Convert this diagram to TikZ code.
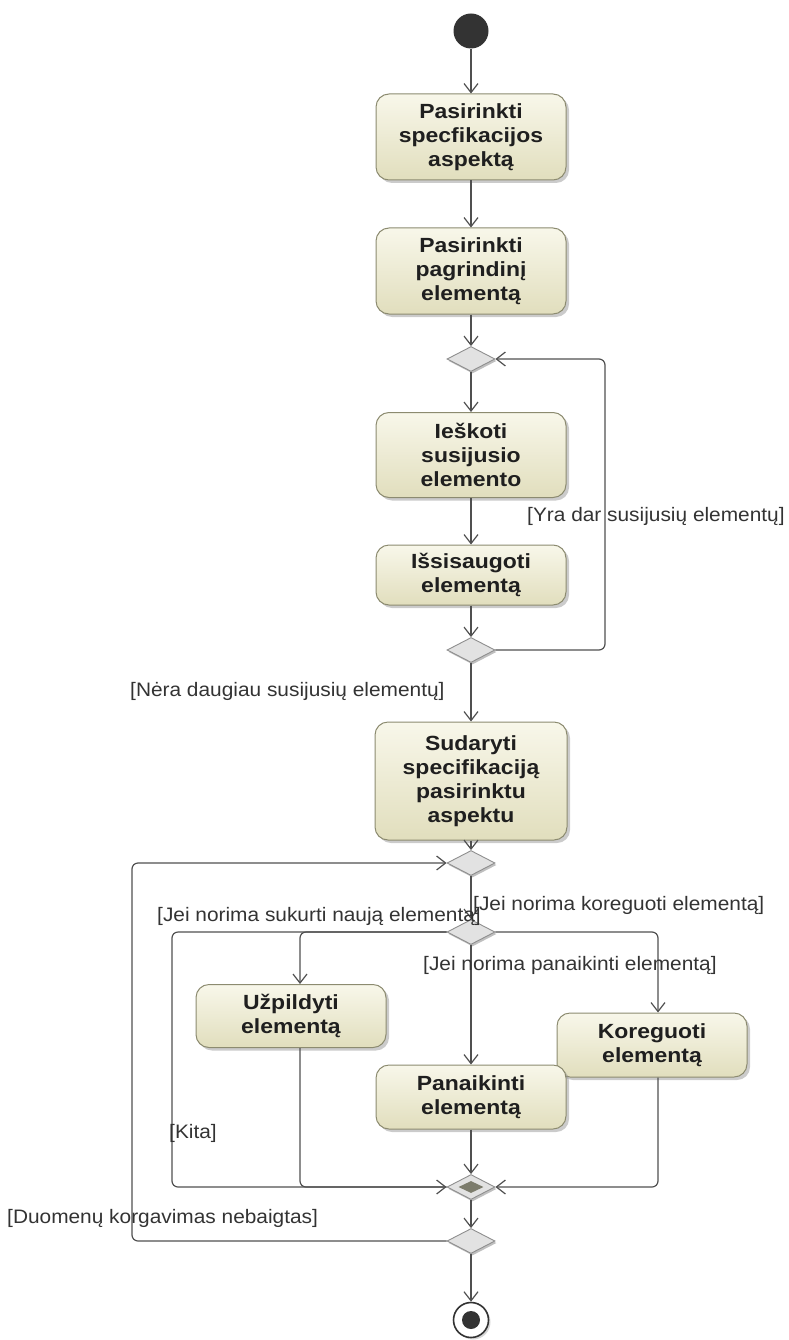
\documentclass[tikz,border=0pt]{standalone}
\usepackage{fontspec}
\setmainfont{Liberation Sans}
\newfontfamily\boxfont[FakeStretch=1.12]{Liberation Sans}
\newfontfamily\guardfont[FakeStretch=1.07]{Liberation Sans}
\usetikzlibrary{arrows.meta,shapes.geometric,shadows}

\definecolor{boxline}{HTML}{8C8B70}
\definecolor{boxtop}{HTML}{F8F7EA}
\definecolor{boxbot}{HTML}{E1DEBD}
\definecolor{decline}{HTML}{8E8E8E}
\definecolor{decfill}{HTML}{E2E2E2}
\definecolor{flowcol}{HTML}{505050}
\definecolor{dotcol}{HTML}{333333}
\definecolor{joincol}{HTML}{7C7C6C}

\begin{document}
\begin{tikzpicture}[x=1pt,y=-1pt,
  action/.style={rectangle, rounded corners=13pt, draw=boxline, line width=1pt,
    top color=boxtop, bottom color=boxbot, minimum width=190pt, align=center,
    inner sep=2pt, text=black!88,
    font=\boxfont\fontsize{20.5}{24}\selectfont\bfseries,
    drop shadow={shadow xshift=3pt, shadow yshift=-3pt, fill=black!45, opacity=0.45}},
  decision/.style={diamond, draw=decline, fill=decfill, line width=0.9pt,
    minimum width=48pt, minimum height=25pt, inner sep=0pt,
    drop shadow={shadow xshift=1.5pt, shadow yshift=-2pt, fill=black!50, opacity=0.5}},
  guard/.style={anchor=west, inner sep=0pt, text=black!80,
    font=\guardfont\fontsize{19.5}{22}\selectfont},
  flow/.style={draw=flowcol, line width=1.2pt, -{Straight Barb[length=9pt,width=14pt]}},
  plain/.style={draw=flowcol, line width=1.2pt}
]
\useasboundingbox (0,0) rectangle (788,1340);

% main column at x = 471
% start and end
\node[circle, fill=dotcol, minimum size=35pt, inner sep=0pt] (start) at (471,31) {};
\node[circle, draw=dotcol, fill=white, line width=1.6pt, minimum size=35pt, inner sep=0pt,
  drop shadow={shadow xshift=2pt, shadow yshift=-2pt, fill=black!40, opacity=0.4}] (stop) at (471,1320) {};
\node[circle, fill=dotcol, minimum size=18pt, inner sep=0pt] (stopdot) at (stop.center) {};

% actions
\node[action, minimum height=86pt] (b1) at (471,137) {Pasirinkti\\specfikacijos\\aspektą};
\node[action, minimum height=86pt] (b2) at (471,271) {Pasirinkti\\pagrindinį\\elementą};
\node[decision] (d1) at (471,359) {};
\node[action, minimum height=85pt] (b3) at (471,455) {Ieškoti\\susijusio\\elemento};
\node[action, minimum height=60pt] (b4) at (471,575) {Išsisaugoti\\elementą};
\node[decision] (d2) at (471,650) {};
\node[action, minimum height=118pt, minimum width=192pt] (b5) at (471,781) {Sudaryti\\specifikaciją\\pasirinktu\\aspektu};
\node[decision] (d3) at (471,863) {};
\node[decision] (d4) at (471,932) {};
\node[action, minimum height=63pt] (u) at (291,1016) {Užpildyti\\elementą};
\node[action, minimum height=64pt] (k) at (652,1045) {Koreguoti\\elementą};
\node[action, minimum height=64pt] (p) at (471,1097) {Panaikinti\\elementą};
\node[decision] (m5) at (471,1187) {};
\node[diamond, fill=joincol, minimum width=25pt, minimum height=12pt, inner sep=0pt] (m5in) at (m5.center) {};
\node[decision] (d6) at (471,1241) {};

% bend points of the loops
\coordinate (rloop) at (605,500);
\coordinate (lloop) at (132,1000);
\coordinate (lbr) at (172,1050);

% connectors
\draw[flow] (start) -- (b1);
\draw[flow] (b1) -- (b2);
\draw[flow] (b2) -- (d1);
\draw[flow] (d1) -- (b3);
\draw[flow] (b3) -- (b4);
\draw[flow] (b4) -- (d2);
\draw[flow, rounded corners=6pt] (d2.east) -| (rloop) |- (d1.east);
\draw[flow] (d2) -- (b5);
\draw[flow] (b5) -- (d3);
\draw[flow] (d3) -- (d4);
\draw[flow, rounded corners=6pt] (d4.west) -| (lbr) |- (m5.west);
\draw[flow, rounded corners=6pt] (d4.west) -| ([xshift=9pt]u.north);
\draw[flow, rounded corners=6pt] (d4.east) -| ([xshift=6pt]k.north);
\draw[flow] (d4) -- (p);
\draw[plain, rounded corners=6pt] ([xshift=9pt]u.south) |- (m5.west);
\draw[flow, rounded corners=6pt] ([xshift=6pt]k.south) |- (m5.east);
\draw[flow] (p) -- (m5);
\draw[flow] (m5) -- (d6);
\draw[flow, rounded corners=6pt] (d6.west) -| (lloop) |- (d3.west);
\draw[flow] (d6) -- (stop);

% guards
\node[guard] (g1) at (527,516) {[Yra dar susijusių elementų]};
\node[guard] (g2) at (130,691) {[Nėra daugiau susijusių elementų]};
\node[guard] (g3) at (473,905) {[Jei norima koreguoti elementą]};
\node[guard] (g4) at (157,916) {[Jei norima sukurti naują elementą]};
\node[guard] (g5) at (423,965) {[Jei norima panaikinti elementą]};
\node[guard] (g6) at (169,1133) {[Kita]};
\node[guard] (g7) at (7,1218) {[Duomenų korgavimas nebaigtas]};
\end{tikzpicture}
\end{document}
